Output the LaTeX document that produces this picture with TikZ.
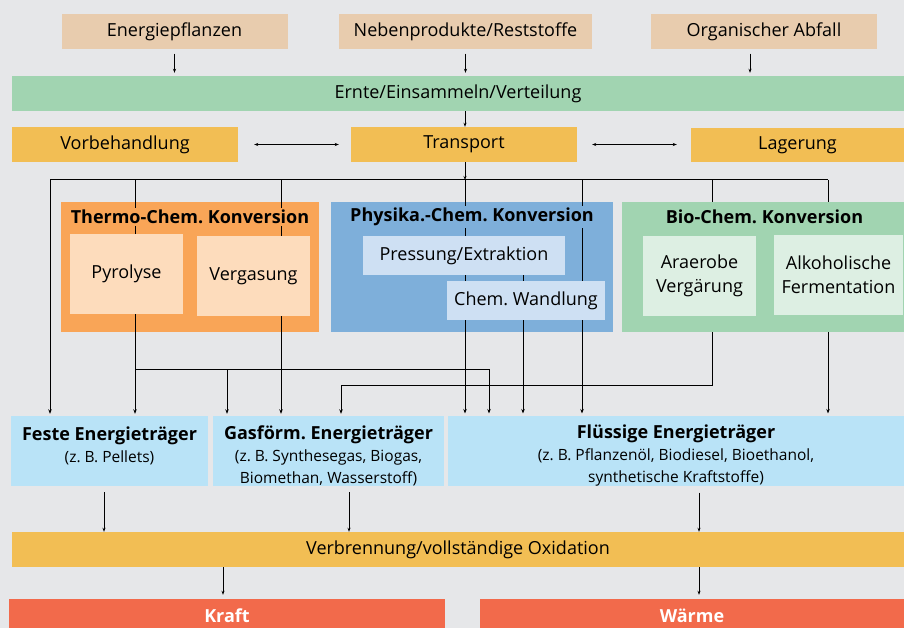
\documentclass[tikz,border=0pt]{standalone}
\usepackage{fontspec}
\setmainfont{Open Sans}
\usetikzlibrary{arrows.meta}
\frenchspacing

\definecolor{bgGrey}{HTML}{E6E7E9}
\definecolor{sand}{HTML}{E8CCAE}
\definecolor{leaf}{HTML}{A1D4B1}
\definecolor{amber}{HTML}{F2BE54}
\definecolor{tangerine}{HTML}{F9A557}
\definecolor{peach}{HTML}{FDDCBC}
\definecolor{steel}{HTML}{7EAFDA}
\definecolor{ice}{HTML}{CEE0F3}
\definecolor{mint}{HTML}{DDEFE3}
\definecolor{sky}{HTML}{B9E3F7}
\definecolor{coral}{HTML}{F26A4B}

\tikzset{
  box/.style 2 args={minimum width=#1, minimum height=#2, inner sep=0pt,
    align=center, font=\fontsize{18}{24}\selectfont},
  carrier/.style={box={#1}{70pt}, fill=sky, font=\fontsize{15.5}{22}\selectfont},
  grouptitle/.style={inner sep=2pt, font=\bfseries\fontsize{18}{20}\selectfont},
  ln/.style={line width=1pt},
  arr/.style={line width=1pt, -{Stealth[length=4.5pt,width=3.5pt]}, shorten >=2pt},
  thinarr/.style={line width=0.7pt, -{Stealth[length=4pt,width=3pt]}},
  dblarr/.style={line width=0.7pt, {Stealth[length=4pt,width=3pt]}-{Stealth[length=4pt,width=3pt]}}
}

\begin{document}
\begin{tikzpicture}[x=1pt,y=-1pt]
    \fill[bgGrey] (0,0) rectangle (904,628);
    \useasboundingbox (0,0) rectangle (904,628);

    \node[box={226pt}{35pt}, fill=sand] (Energie) at (174.5,32) {Energiepflanzen};
    \node[box={253pt}{35pt}, fill=sand] (Neben) at (465.5,32) {Nebenprodukte/Reststoffe};
    \node[box={226pt}{35pt}, fill=sand] (Abfall) at (764,32) {Organischer Abfall};
    \node[box={892pt}{35pt}, fill=leaf] (Ernte) at (458,93.5) {Ernte/Einsammeln/Verteilung};
    \node[box={226pt}{35pt}, fill=amber] (Vorbeh) at (125,144.5) {Vorbehandlung};
    \node[box={226pt}{35pt}, fill=amber] (Transp) at (464,144.5) {Transport};
    \node[box={213pt}{34pt}, fill=amber] (Lager) at (797.5,145) {\raisebox{-1.5pt}{Lagerung}};

    \node[box={258pt}{130pt}, fill=tangerine] (Thermo) at (190,267) {};
    \node[box={282pt}{130pt}, fill=steel] (Physik) at (472,267) {};
    \node[box={282pt}{130pt}, fill=leaf] (Bio) at (763,267) {};

    \node[carrier={197pt}] (Feste) at (109.5,451)
        {\rule{0pt}{23pt}{\bfseries\fontsize{18}{22}\selectfont Feste Energieträger}\\(z. B. Pellets)\\\mbox{}};
    \node[carrier={231pt}] (Gas) at (328.5,451)
        {\rule{0pt}{23pt}{\bfseries\fontsize{18}{22}\selectfont Gasförm. Energieträger}\\(z. B. Synthesegas, Biogas,\\Biomethan, Wasserstoff)};
    \node[carrier={456pt}] (Fluess) at (676,451)
        {\rule{0pt}{23pt}{\bfseries\fontsize{18}{22}\selectfont Flüssige Energieträger}\\(z. B. Pflanzenöl, Biodiesel, Bioethanol,\\synthetische Kraftstoffe)};
    \node[box={892pt}{35pt}, fill=amber] (Verbr) at (458,549.5) {Verbrennung/vollständige Oxidation};
    \node[box={436pt}{34pt}, fill=coral, text=white, font=\bfseries\fontsize{18}{20}\selectfont] (Kraft) at (227,616) {Kraft};
    \node[box={424pt}{34pt}, fill=coral, text=white, font=\bfseries\fontsize{18}{20}\selectfont] (Waerme) at (692,616) {Wärme};

    \coordinate (kFe) at (50,180);
    \coordinate (kPy) at (135,180);
    \coordinate (kVg) at (281,180);
    \coordinate (kTr) at (465,180);
    \coordinate (kWa) at (523,180);
    \coordinate (kPh) at (582,180);
    \coordinate (kAn) at (712,180);
    \coordinate (kAl) at (828,180);
    \coordinate (kAb) at (750,180);
    \coordinate (kG1) at (227,180);
    \coordinate (kG2) at (341,180);
    \coordinate (kF2) at (489,180);
    \coordinate (pyJ) at (135,369);
    \coordinate (anJ) at (712,385);
    \coordinate (kV1) at (104,500);
    \coordinate (kV2) at (349,500);
    \coordinate (kV3) at (699,500);
    \coordinate (kK) at (223,500);

    \draw[thinarr, shorten <=4pt, shorten >=3pt] (Energie.south) -- (Energie.south |- Ernte.north);
    \draw[thinarr, shorten <=4pt, shorten >=3pt] (Neben.south) -- (Neben.south |- Ernte.north);
    \draw[thinarr, shorten <=4pt, shorten >=3pt] (kAb |- Abfall.south) -- (kAb |- Ernte.north);
    \draw[thinarr] (kTr |- Ernte.south) -- (kTr |- Transp.north);
    \draw[dblarr, shorten <=16pt, shorten >=12pt] (Vorbeh.east) -- (Transp.west);
    \draw[dblarr, shorten <=15pt, shorten >=14pt] (Transp.east) -- (Lager.west |- Transp.east);
    \draw[thinarr] (kTr |- Transp.south) -- (kTr);

    \draw[ln] (kFe) -- (kAl);
    \draw[arr] (kFe) -- (kFe |- Feste.north);
    \draw[ln] (kPy) -- (kPy |- Thermo.south);
    \draw[ln] (kVg) -- (kVg |- Thermo.south);
    \draw[ln] (kTr) -- (kTr |- Physik.south);
    \draw[ln] (kWa |- Physik.south) -- (kWa |- 0,255);
    \draw[arr] (kPh) -- (kPh |- Fluess.north);
    \draw[ln] (kAn) -- (kAn |- Bio.north);
    \draw[ln] (kAl) -- (kAl |- Bio.north);

    \draw[arr] (kPy |- Thermo.south) -- (kPy |- Feste.north);
    \draw[arr] (pyJ) -| (kG1 |- Gas.north);
    \draw[arr] (pyJ) -| (kF2 |- Fluess.north);
    \draw[arr] (kVg |- Thermo.south) -- (kVg |- Gas.north);
    \draw[arr] (kTr |- Physik.south) -- (kTr |- Fluess.north);
    \draw[arr] (kWa |- Physik.south) -- (kWa |- Fluess.north);
    \draw[arr] (kAn |- Bio.south) -- (anJ) -| (kG2 |- Gas.north);
    \draw[arr] (kAl |- Bio.south) -- (kAl |- Fluess.north);

    \node[box={113pt}{80pt}, fill=peach] (Pyro) at (126.5,274) {Pyrolyse};
    \node[box={113pt}{80pt}, fill=peach] (Verg) at (253.5,276) {Vergasung};
    \node[box={202pt}{39pt}, fill=ice] (Press) at (464,255.5) {Pressung/Extraktion};
    \node[box={158pt}{39pt}, fill=ice] (Wandl) at (526,300.5) {Chem. Wandlung};
    \node[box={113pt}{80pt}, fill=mint] (Anaer) at (699.5,276) {Araerobe\\Vergärung};
    \node[box={129pt}{80pt}, fill=mint] (Alkoh) at (838.5,275) {Alkoholische\\Fermentation};

    \draw[ln] (kTr |- Press.south) -- (kTr |- Wandl.north);
    \draw[ln] (kWa |- Press.south) -- (kWa |- Wandl.north);

    \node[grouptitle, fill=tangerine] (ThermoT) at ([yshift=-15pt]Thermo.north) {Thermo-Chem. Konversion};
    \node[grouptitle, fill=steel] (PhysikT) at ([yshift=-15pt]Physik.north) {Physika.-Chem. Konversion};
    \node[grouptitle, fill=leaf] (BioT) at ([xshift=1.5pt,yshift=-15pt]Bio.north) {Bio-Chem. Konversion};

    \draw[thinarr, shorten <=6pt] (kV1 |- Feste.south) -- (kV1 |- Verbr.north);
    \draw[thinarr, shorten <=6pt] (kV2 |- Gas.south) -- (kV2 |- Verbr.north);
    \draw[thinarr, shorten <=6pt] (kV3 |- Fluess.south) -- (kV3 |- Verbr.north);
    \draw[thinarr, shorten >=4pt] (kK |- Verbr.south) -- (kK |- Kraft.north);
    \draw[thinarr, shorten >=4pt] (kV3 |- Verbr.south) -- (kV3 |- Waerme.north);
\end{tikzpicture}
\end{document}
